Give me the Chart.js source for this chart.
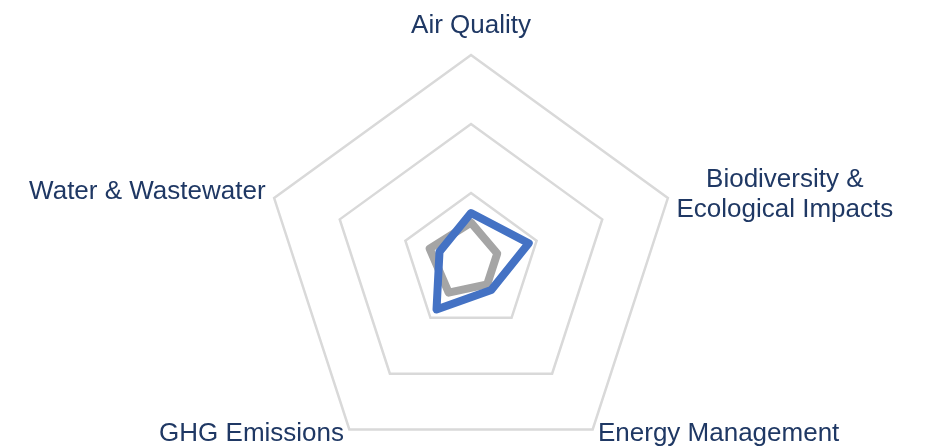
<!DOCTYPE html>
<html>
<head>
<meta charset="utf-8">
<script src="https://cdn.jsdelivr.net/npm/chart.js@4/dist/chart.umd.min.js"></script>
<style>
  html, body { margin: 0; padding: 0; background: #fff; overflow: hidden; }
  #wrap { width: 929px; height: 470px; }
</style>
</head>
<body>
<div id="wrap"><canvas id="radar" width="929" height="470"></canvas></div>
<script>
// axes, clockwise from the top
const categories = [
  "Air Quality",
  ["Biodiversity &", "Ecological Impacts"],
  "Energy Management",
  "GHG Emissions",
  "Water & Wastewater",
];
const seriesBlue = [0.71, 0.88, 0.5, 0.85, 0.48];
const seriesGrey = [0.57, 0.4, 0.4, 0.55, 0.63];
const scaleMax = 3;
const scaleStep = 1;

const labelColor = "#1F3864";
const labelFont = '26px "Liberation Sans", Arial, sans-serif';
const lineH = 30;

// labels are drawn here so that two-line labels stay centred on each other
const axisLabels = {
  id: "axisLabels",
  afterDraw(chart) {
    const r = chart.scales.r;
    const ctx = chart.ctx;
    ctx.save();
    ctx.font = labelFont;
    ctx.fillStyle = labelColor;
    ctx.textBaseline = "middle";
    ctx.textAlign = "center";
    categories.forEach((label, i) => {
      const lines = Array.isArray(label) ? label : [label];
      const angle = r.getIndexAngle(i) - Math.PI / 2;
      const cos = Math.cos(angle);
      const sin = Math.sin(angle);
      const isTop = Math.abs(cos) < 0.01;
      const p = r.getPointPosition(i, r.drawingArea + (isTop ? 14 : 9));
      const w = Math.max(...lines.map((l) => ctx.measureText(l).width));
      let x = p.x;
      if (!isTop) x = cos > 0 ? p.x + w / 2 : p.x - w / 2;
      let y = p.y - 3;
      if (isTop) y = p.y - (lineH * lines.length) / 2;
      else if (cos > 0 && sin < 0) y = p.y;
      lines.forEach((l, k) => {
        ctx.fillText(l, x, y + (k - (lines.length - 1) / 2) * lineH);
      });
    });
    ctx.restore();
  },
};

new Chart(document.getElementById("radar"), {
  type: "radar",
  data: {
    labels: categories,
    datasets: [
      {
        label: "Series 1",
        data: seriesBlue,
        borderColor: "#4472C4",
        borderWidth: 8,
        borderJoinStyle: "round",
        fill: false,
        pointRadius: 0,
        pointHoverRadius: 0,
      },
      {
        label: "Series 2",
        data: seriesGrey,
        borderColor: "#A5A5A5",
        borderWidth: 8,
        borderJoinStyle: "round",
        fill: false,
        pointRadius: 0,
        pointHoverRadius: 0,
      },
    ],
  },
  options: {
    responsive: false,
    animation: false,
    layout: { padding: { left: 14, top: 55 } },
    plugins: { legend: { display: false }, tooltip: { enabled: false } },
    scales: {
      r: {
        min: 0,
        max: scaleMax,
        ticks: { display: false, stepSize: scaleStep },
        angleLines: { display: false },
        grid: { color: "#D9D9D9", lineWidth: 2.5 },
        pointLabels: { display: false },
      },
    },
  },
  plugins: [axisLabels],
});
</script>
</body>
</html>
